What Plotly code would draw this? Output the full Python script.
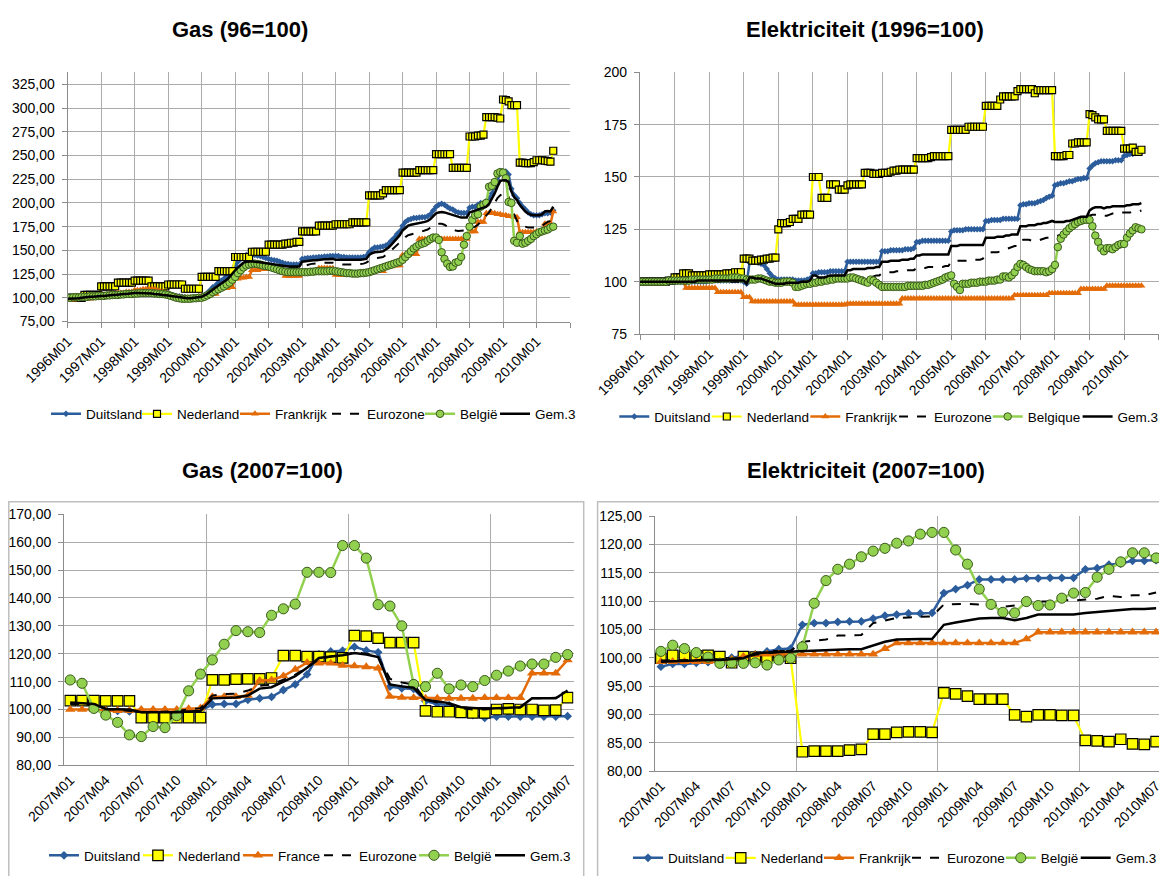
import plotly.graph_objects as go

# The browser page has an 8px body margin, so the figure is laid out in screen pixels minus 8.
OFF = 8
WF, HF = 1167 - OFF, 876 - OFF
FONT = "Liberation Sans, Arial, sans-serif"

# ---------------- categories & tick labels ----------------
months_9610 = [f"{y}M{m:02d}" for y in range(1996, 2011) for m in range(1, 13)][:175]
months_0710 = [f"{y}M{m:02d}" for y in range(2007, 2011) for m in range(1, 13)][:43]
ticks_9610 = ["1996M01", "1997M01", "1998M01", "1999M01", "2000M01", "2001M01", "2002M01",
              "2003M01", "2004M01", "2005M01", "2006M01", "2007M01", "2008M01", "2009M01",
              "2010M01"]
ticks_0710 = ["2007M01", "2007M04", "2007M07", "2007M10", "2008M01", "2008M04", "2008M07",
              "2008M10", "2009M01", "2009M04", "2009M07", "2009M10", "2010M01", "2010M04",
              "2010M07"]

# ---------------- Gas (96=100) ----------------
gas96_duitsland = [
    100, 100, 100, 100.5, 100.5, 100.5, 101, 101, 101, 101.5, 101.5, 102,
    102.5, 103, 103, 103.5, 103.5, 104, 104, 104.5, 104.5, 105, 105, 105.5,
    106, 106, 106, 106, 106, 105.5, 105.5, 105, 105, 104.5, 104.5, 104,
    103.5, 103, 102.5, 102, 101.5, 101, 100.5, 100, 100, 100, 100.5, 101,
    101.5, 103, 105, 108, 111, 113, 116, 118, 120, 123, 126, 130,
    134, 138, 141, 143, 145, 145.5, 145.5, 145, 144.5, 144, 143, 142,
    141, 140, 139.5, 139, 138, 137, 136, 135.5, 135, 135, 135, 135,
    141, 141.5, 142, 142, 142.5, 142.5, 143, 143, 143.5, 143.5, 144, 144,
    144, 144, 143, 143, 142.5, 142.5, 142.5, 142.5, 142.5, 142.5, 143, 144,
    148, 151, 153, 153, 153.5, 154, 155, 157, 160, 163, 167, 170,
    176, 180, 182, 183, 184, 184, 184.5, 185, 185, 186, 188, 192,
    196, 198, 199, 198, 196, 194, 193, 191, 190, 189.5, 189.5, 189.5,
    195, 196, 196, 198, 200, 200, 202, 205, 210, 217, 224, 231,
    233, 233, 230, 215, 208, 205, 200, 196, 193, 190, 188, 187,
    187, 187, 188, 189, 189, 190, 192]
gas96_nederland = [
    100, 100, 100, 100, 100, 100, 103, 103, 103, 103, 103, 103,
    112, 112, 112, 112, 112, 112, 116, 116, 116, 116, 116, 116,
    118, 118, 118, 118, 118, 118, 112, 112, 112, 112, 112, 112,
    114, 114, 114, 114, 114, 114, 109.5, 109.5, 109.5, 109.5, 109.5, 109.5,
    122, 122, 122, 122, 122, 122, 128, 128, 128, 128, 128, 128,
    143, 143, 143, 143, 143, 143, 148.5, 148.5, 148.5, 148.5, 148.5, 148.5,
    156, 156, 156, 156, 156, 156, 157, 157, 158, 158, 159, 159,
    170, 170, 170, 170, 170, 170, 176, 176, 176, 176, 176, 176,
    177.5, 177.5, 177.5, 177.5, 177.5, 177.5, 179.5, 179.5, 179.5, 179.5, 179.5, 179.5,
    208, 208, 208, 208, 208, 210, 213.5, 213.5, 213.5, 213.5, 213.5, 213.5,
    232, 232, 232, 232, 232, 232, 234.5, 234.5, 234.5, 234.5, 234.5, 234.5,
    251.5, 251.5, 251.5, 251.5, 251.5, 251.5, 237, 237, 237, 237, 237, 237,
    270, 270, 270, 271, 271, 272, 290.5, 290.5, 290.5, 290.5, 290, 289,
    309, 308.5, 307, 303, 303, 303, 242.5, 242.5, 242, 242, 242, 243,
    245, 245, 245, 244.5, 244, 243.5, 255]
gas96_frankrijk = [
    98, 98, 98, 98.5, 98.5, 98.5, 99, 99, 99, 100, 100, 100,
    103, 103, 103, 104, 104, 104, 105, 105, 105, 106, 106, 106,
    108, 108, 108, 109, 109, 109, 109, 109, 108, 107, 106, 105,
    104, 103, 102, 101, 100, 100, 100, 100, 100, 100, 100, 101,
    102, 102, 103, 103, 104, 104, 109, 109, 110, 110, 111, 111,
    120, 120, 121, 121, 122, 122, 129, 129, 129, 130, 130, 130,
    130, 130, 130, 130, 130, 130, 123, 123, 123, 123, 123, 123,
    127, 127, 127, 127, 127, 127, 131, 131, 131, 131, 131, 131,
    124, 124, 124, 124, 124, 124, 125, 125, 125, 125, 125, 125,
    128, 128, 128, 128, 128, 128, 133, 133, 133, 134, 134, 134,
    145, 145, 145, 146, 146, 146, 162, 162, 162, 162, 162, 162,
    162, 162, 162, 162, 162, 162, 162, 162, 162, 162, 162, 162,
    170, 170, 170, 180, 180, 180, 189, 189, 189, 189, 188, 188,
    187, 187, 186, 186, 185, 185, 169, 169, 169, 169, 169, 169,
    170, 170, 170, 178, 178, 178, 191]
gas96_eurozone = [
    99, 99, 99.5, 99.5, 99.5, 100, 100, 100.5, 100.5, 101, 101, 101,
    101.5, 101.5, 102, 102, 102.5, 102.5, 103, 103, 103.5, 103.5, 104, 104,
    104.5, 104.5, 104.5, 104.5, 104.5, 104, 104, 103.5, 103.5, 103, 103, 102.5,
    102, 101.5, 101, 100.5, 100, 99.5, 99.5, 99.5, 99.5, 99.5, 100, 100.5,
    101, 102, 103.5, 105.5, 108, 110, 112, 114, 116, 118, 121, 124,
    127, 130, 133, 135, 136, 136.5, 136.5, 136, 136, 135.5, 135, 134.5,
    134, 133.5, 133, 132.5, 132, 131.5, 131, 131, 131, 131, 131.5, 132,
    133, 134, 135, 135.5, 136, 136, 136.5, 136.5, 137, 137, 137, 137,
    136, 135.5, 135, 135, 135, 135, 135, 135, 135, 135.5, 136, 137,
    139, 140.5, 141.5, 142, 142.5, 143, 145, 147, 150, 153, 156, 159,
    162, 164, 166, 167, 168, 168.5, 169, 170, 171, 172, 174, 176,
    177, 178, 178, 177, 175, 173.5, 172, 171, 170.5, 170.5, 171, 172,
    173, 174, 175, 177, 180, 183, 186, 190, 195, 200, 205, 208,
    210, 210, 207, 195, 187, 181, 178, 176, 175, 174, 174, 174,
    174, 175, 176, 178, 180, 181, 184]
gas96_belgie = [
    100, 100, 100.5, 100.5, 100.5, 101, 101, 101, 101.5, 101.5, 101.5, 102,
    102, 102, 102.5, 102.5, 103, 103, 103, 103.5, 103.5, 104, 104, 104,
    104.5, 104.5, 105, 105, 105, 105, 105, 104.5, 104.5, 104, 104, 103.5,
    103, 102, 101, 100, 99.5, 99, 99, 99, 99, 99.5, 99.5, 100,
    100, 101, 102.5, 104, 106, 107.5, 109, 110.5, 112, 114, 116, 119,
    122, 126, 129, 132, 134, 135, 135.5, 136, 135.5, 135, 134, 133.5,
    133, 132, 131, 130, 129, 128, 127.5, 127, 127, 127, 127, 127,
    127, 127, 127, 127.5, 127.5, 128, 128, 128, 128, 128, 128.5, 128.5,
    128, 127.5, 127, 126.5, 126, 126, 125.5, 125.5, 125.5, 126, 126, 126.5,
    127, 128, 129, 130, 131, 132, 133, 134, 135, 136, 137, 138,
    140, 143, 146, 149, 152, 154, 156, 157, 158, 160, 162, 163.5,
    163.5, 161, 148, 141, 136, 132.5, 133, 137, 138, 143, 156, 165,
    175, 182, 187, 188, 196, 198, 200, 217, 218, 222, 231, 232.5,
    232, 226, 201, 200, 160, 158, 165, 157, 158, 160, 162, 165,
    167, 169, 170, 171, 172, 174, 175]
gas96_gem3 = [
    99, 99, 99, 99.5, 99.5, 100, 100.5, 100.5, 101, 101, 101.5, 101.5,
    102, 102, 102.5, 102.5, 103, 103, 103.5, 103.5, 104, 104, 104.5, 104.5,
    105, 105, 105, 105, 105, 104.5, 104.5, 104, 104, 103.5, 103, 103,
    102.5, 102, 101.5, 101, 100.5, 100, 100, 99.5, 99.5, 100, 100, 100.5,
    101, 102.5, 104, 106.5, 109, 111, 113, 115, 117, 119, 122, 126,
    129, 132, 135, 137, 138, 138.5, 138.5, 138, 138, 137.5, 137, 136.5,
    136, 135.5, 135, 134.5, 134, 133.5, 133, 133, 133, 133, 133, 133,
    138, 138.5, 139, 139, 139.5, 139.5, 140, 140, 140.5, 140.5, 141, 141,
    140, 140, 139.5, 139.5, 139.5, 139.5, 139.5, 139.5, 139.5, 140, 140.5, 141,
    145, 147, 148, 148, 148.5, 149, 151, 153, 156, 159, 162, 166,
    171, 174, 176, 177, 177.5, 178, 178.5, 179, 180, 181, 183, 186,
    189, 190, 190.5, 190, 189, 188, 187, 186, 185, 184.5, 184.5, 184.5,
    190, 191, 192, 193, 194, 194.5, 196, 199, 204, 210, 217, 223,
    224, 224, 222, 212, 206, 203, 198, 194, 191, 189, 187.5, 187,
    187, 187, 188, 191, 191.5, 191, 196]

# ---------------- Elektriciteit (1996=100) ----------------
el96_duitsland = [
    100, 100, 100, 100, 100, 100, 100, 100, 100, 100, 100, 100,
    100, 100, 100, 100, 100, 100, 100, 100, 100, 100, 100, 100,
    100.5, 100.5, 100.5, 100.5, 100.5, 100.5, 100.5, 100.5, 100.5, 100.5, 100.5, 100.5,
    100, 99, 109, 109.5, 109.5, 109, 108.5, 108, 106, 104, 102.5, 101.5,
    101, 101, 101, 101, 101, 101, 100.5, 100.5, 100.5, 100.5, 101, 101.5,
    104, 104, 104.5, 104.5, 104.5, 104.5, 105, 105, 105, 105, 105, 105,
    109.5, 109.5, 109.5, 109.5, 109.5, 109.5, 109.5, 109.5, 109.5, 109.5, 109.5, 109.5,
    114.5, 114.5, 114.5, 115, 115, 115, 115, 115, 115.5, 115.5, 115.5, 116,
    119, 119, 119.5, 119.5, 119.5, 119.5, 119.5, 119.5, 119.5, 119.5, 119.5, 119.5,
    124, 124.5, 124.5, 124.5, 124.5, 125, 125, 125, 125, 125, 125, 125,
    129, 129, 129.5, 129.5, 129.5, 129.5, 130, 130, 130, 130, 130, 130,
    136.5, 137, 137, 137.5, 137.5, 137.5, 138, 138.5, 139, 140, 140.5, 141,
    146, 146.5, 147, 147, 147.5, 148, 148, 148.5, 149, 149, 149.5, 149.5,
    154, 155.5, 156.5, 157, 157.5, 157.5, 157.5, 157.5, 157.5, 158, 158, 158,
    160, 160.5, 161, 161, 161.5, 162, 162]
el96_nederland = [
    100, 100, 100, 100, 100, 100, 100, 100, 100, 100, 100.5, 100.5,
    102, 102, 102, 104, 104, 104, 103, 103, 103, 103, 103, 103,
    103.5, 103.5, 103.5, 103.5, 103.5, 103.5, 104, 104, 104, 104.5, 104.5, 104.5,
    111, 111, 111, 110, 110, 110, 110.5, 110.5, 111, 111, 111.5, 111.5,
    125, 128, 128, 128, 128.5, 130, 130, 130, 132, 132, 132, 132,
    150, 150, 150, 140, 140, 140, 146.5, 146.5, 146.5, 144, 144, 144,
    146, 146.5, 146.5, 146.5, 146.5, 146.5, 152, 152, 152, 151.5, 151.5, 151.5,
    152, 152, 152, 152.5, 153, 153, 153.5, 153.5, 153.5, 153.5, 153.5, 153.5,
    159, 159, 159, 159, 159, 159.5, 160, 160, 160, 160, 160, 160,
    172.5, 172.5, 172.5, 172.5, 172.5, 172.5, 174, 174, 174, 174, 174, 174,
    184, 184, 184, 184, 184, 187, 188.5, 188.5, 188.5, 188.5, 188.5, 191,
    192, 192, 192, 192, 192, 190, 191.5, 191.5, 191.5, 191.5, 191.5, 191.5,
    160, 160, 160, 160, 160.5, 160.5, 166, 166, 166.5, 166.5, 166.5, 166.5,
    180, 179.5, 178.5, 177.5, 177.5, 177.5, 172, 172, 172, 172, 172, 172,
    163.5, 163.5, 163.5, 164, 162, 162, 163]
el96_frankrijk = [
    100, 100, 100, 100, 100, 100, 100, 100, 100, 100, 100, 100,
    100, 100, 100, 100, 97, 97, 97, 97, 97, 97, 97, 97,
    97, 97, 97, 95, 95, 95, 95, 95, 95, 95, 95, 95,
    92.5, 92.5, 92.5, 90.5, 90.5, 90.5, 90.5, 90.5, 90.5, 90.5, 90.5, 90.5,
    90.5, 90.5, 90.5, 90.5, 90.5, 90.5, 89, 89, 89, 89, 89, 89,
    89, 89, 89, 89, 89, 89, 89, 89, 89, 89, 89, 89,
    89.5, 89.5, 89.5, 89.5, 89.5, 89.5, 89.5, 89.5, 89.5, 89.5, 89.5, 89.5,
    89.5, 89.5, 89.5, 89.5, 89.5, 89.5, 89.5, 92, 92, 92, 92, 92,
    92, 92, 92, 92, 92, 92, 92, 92, 92, 92, 92, 92,
    92, 92, 92, 92, 92, 92, 92, 92, 92, 92, 92, 92,
    92, 92, 92, 92, 92, 92, 92, 92, 92, 92, 93.5, 93.5,
    93.5, 93.5, 93.5, 93.5, 93.5, 93.5, 93.5, 93.5, 93.5, 93.5, 94.5, 94.5,
    94.5, 94.5, 94.5, 94.5, 94.5, 94.5, 94.5, 94.5, 94.5, 96.5, 96.5, 96.5,
    96.5, 96.5, 96.5, 96.5, 96.5, 96.5, 98, 98, 98, 98, 98, 98,
    98, 98, 98, 98, 98, 98, 98]
el96_eurozone = [
    100, 100, 100, 100, 100, 100, 100, 100, 100, 100, 100, 100,
    100, 100, 100, 100, 100, 100, 100, 100, 100, 100, 100, 100,
    100, 100, 100, 100, 100, 100, 100, 100, 100, 100, 100, 100,
    100, 100, 100, 100, 100, 100, 100, 100, 100, 99.5, 99.5, 99.5,
    99.5, 99.5, 99.5, 99.5, 99.5, 99.5, 100, 100, 100, 100, 100, 100,
    101, 101, 101, 101, 101, 101, 101, 101, 101.5, 101.5, 101.5, 101.5,
    102, 102, 102, 102, 102, 102, 102, 102.5, 102.5, 102.5, 103, 103,
    104, 104, 104.5, 104.5, 104.5, 105, 105, 105, 105, 105.5, 105.5, 105.5,
    106.5, 106.5, 106.5, 106.5, 107, 107, 107, 107, 107, 107, 107.5, 107.5,
    109.5, 110, 110, 110, 110, 110, 110, 110, 110.5, 110.5, 110.5, 111,
    113, 113.5, 114, 114, 114, 114.5, 115, 115.5, 116, 116.5, 117, 117,
    119.5, 120, 120, 120, 119.5, 119.5, 119.5, 120, 120.5, 121, 121, 121.5,
    121.5, 122, 122.5, 123, 124, 125, 126, 127, 128, 129, 130, 130.5,
    131.5, 132, 132, 132, 131.5, 131.5, 131.5, 132, 132.5, 132.5, 133, 133,
    133, 133, 133, 133.5, 133.5, 133.5, 134]
el96_belgique = [
    100, 100, 100, 100, 100, 100, 100, 100, 100, 100, 100.5, 100.5,
    100.5, 100.5, 100.5, 100.5, 100.5, 100.5, 101, 101, 101, 101, 101, 101,
    101, 101, 101.5, 101.5, 101.5, 101.5, 101.5, 101.5, 102, 102, 102, 101.5,
    101.5, 101, 101, 101, 101, 101.5, 101.5, 101, 100.5, 100, 100, 99.5,
    99.5, 99.5, 100, 100, 100, 99.5, 97.5, 97.5, 98, 98.5, 99, 99,
    99.5, 99.5, 100, 100, 100.5, 100.5, 101, 101, 101.5, 101.5, 101.5, 101.5,
    101.5, 102, 102, 101.5, 101, 100.5, 100, 99.5, 101, 100.5, 99.5, 98.5,
    97.5, 97.5, 97.5, 97.5, 97.5, 97.5, 97.5, 97.5, 97.5, 98, 98, 98,
    98, 98, 98, 98.5, 98.5, 99, 99.5, 100, 100.5, 101, 102, 102.5,
    103, 99, 97.5, 96, 99, 99, 99, 99.5, 99.5, 99.5, 100, 100,
    100, 100.5, 100.5, 100.5, 101, 101, 102.5, 102.5, 102, 103, 104.5, 107,
    108.5, 108, 107, 106, 105.5, 105, 105, 105, 105, 104.5, 105, 106,
    108, 116.5, 120.5, 122.5, 124, 125.5, 126.5, 127.5, 128.5, 129, 129.5, 129.5,
    129.5, 126.5, 122, 119, 116, 114.5, 116, 116, 115.5, 116.5, 117.5, 118,
    118, 121, 123, 124.5, 126, 125.5, 125]
el96_gem3 = [
    100, 100, 100, 100, 100, 100, 100, 100, 100, 100, 100, 100,
    100, 100, 100, 100, 100, 100, 100, 100, 100.5, 100.5, 100.5, 100.5,
    100.5, 100.5, 100.5, 100.5, 100.5, 100.5, 100.5, 100.5, 100.5, 100.5, 100.5, 100.5,
    100.5, 99, 102, 102, 101.5, 101.5, 101.5, 101, 100.5, 100, 99.5, 99,
    99, 99, 99, 99.5, 99.5, 99.5, 99.5, 99.5, 100, 100, 100, 100.5,
    103, 103, 102, 102, 102, 102.5, 103, 103, 103, 103, 103, 103,
    105.5, 105.5, 106, 106, 106, 106, 106, 106.5, 106.5, 106.5, 107, 107,
    109.5, 109.5, 109.5, 110, 110, 110, 110, 110.5, 110.5, 110.5, 111, 111,
    112.5, 112.5, 113, 113, 113, 113, 113, 113, 113, 113, 113, 113,
    117, 117, 117, 117.5, 117.5, 117.5, 117.5, 117.5, 117.5, 117.5, 117.5, 117.5,
    121, 121, 121, 121, 121.5, 121.5, 121.5, 122, 122, 122.5, 122.5, 122.5,
    126.5, 126.5, 126.5, 127, 127, 127, 127.5, 127.5, 128, 128, 128.5, 129,
    128.5, 128.5, 128.5, 128.5, 129, 129, 129.5, 130, 130.5, 131, 131, 131,
    134, 135, 135.5, 135.5, 135.5, 135, 135.5, 135.5, 136, 136, 136, 136,
    136, 136.5, 136.5, 137, 137, 137, 137.5]

# ---------------- Gas (2007=100) ----------------
gas07_duitsland = [103, 103, 102.2, 100, 99.5, 99.3, 99, 99, 99, 99, 99, 99.5,
                   101.8, 102, 102, 103.5, 104, 104.5, 107, 109, 112.6, 119.8, 120.8, 121.1,
                   122.5, 121.2, 120.5, 108.2, 107.6, 107.4, 103, 102, 101.5, 99.5, 98, 97,
                   97.5, 97.5, 97.5, 97.5, 97.5, 97.5, 97.6]
gas07_nederland = [103.2, 103.2, 103.2, 103.1, 103.1, 103.1, 97.1, 97.1, 97.1, 97.1, 97.1, 97.1,
                   110.6, 110.6, 110.9, 111, 111, 111.3, 119.3, 119.3, 119, 119, 118.8, 118.5,
                   126.5, 126.3, 125.6, 124, 124, 124, 99.5, 99.2, 99.2, 99, 98.8, 98.8,
                   100, 100.2, 100, 100, 99.7, 99.8, 104.3]
gas07_france = [100, 100, 100, 99.6, 99.6, 99.6, 100, 100, 100, 100, 100.3, 100.5,
                104.6, 104.6, 104.6, 105, 110.4, 110.6, 112, 114.4, 116.8, 116.6, 116.6, 115.8,
                115.6, 115.3, 114.8, 104.7, 104.3, 104.2, 104, 104, 104, 104, 104, 104.2,
                104.2, 104.2, 104.2, 113, 113, 113, 117.8]
gas07_eurozone = [102, 102, 101.5, 100, 100, 99.6, 99, 99, 99.2, 99.5, 100, 100.5,
                  105, 105.5, 105.7, 106.8, 108.5, 109, 110.7, 112.5, 115, 118, 119, 119.5,
                  120.5, 120, 119, 111, 109.7, 109, 103.5, 102.5, 102, 100.5, 100, 100,
                  100.3, 100.5, 100.7, 104, 104, 104.2, 106]
gas07_belgie = [110.6, 109.4, 100.4, 98, 95.4, 90.9, 90.3, 93.9, 93.5, 97.8, 106.7, 112.7,
                117.8, 123.4, 128.3, 127.9, 127.6, 133.8, 136.1, 137.8, 149.2, 149.2, 149.1, 158.8,
                158.8, 154.3, 137.6, 137.1, 130, 109, 108.2, 113, 107.4, 108.8, 108.2, 110.4,
                112.3, 113.8, 115.6, 116.3, 116.3, 118.7, 119.7]
gas07_gem3 = [102.5, 102.3, 102, 100.2, 100, 100, 99, 99, 99, 99, 99.3, 99.5,
              104, 104.2, 104.3, 105, 107.5, 108, 110, 112, 115, 118.5, 119, 119.5,
              120.3, 119.7, 118.8, 109, 108.3, 107.8, 103.5, 102.8, 102.3, 100.8, 100.5, 100.3,
              100.5, 100.7, 100.8, 104, 104, 104, 106.8]

# ---------------- Elektriciteit (2007=100) ----------------
el07_duitsland = [98.4, 98.9, 98.9, 99.1, 99.2, 99.3, 100, 100.3, 100.6, 101.1, 101.5, 101.6,
                  105.8, 106.1, 106.1, 106.3, 106.4, 106.4, 106.9, 107.4, 107.6, 107.8, 107.8, 107.9,
                  111.4, 112.1, 112.8, 113.8, 113.8, 113.8, 113.8, 114, 114, 114.1, 114.1, 114.1,
                  115.6, 115.8, 116.4, 116.6, 117.1, 117.1, 117.2]
el07_nederland = [99.9, 100.4, 100.3, 100.3, 100.4, 100.2, 99.1, 100.2, 100.1, 100, 100.3, 99.9,
                  83.4, 83.5, 83.5, 83.5, 83.7, 83.8, 86.5, 86.5, 86.8, 86.9, 86.9, 86.8,
                  93.8, 93.6, 93.2, 92.7, 92.7, 92.7, 89.9, 89.6, 89.9, 89.9, 89.8, 89.8,
                  85.4, 85.3, 85.2, 85.6, 84.8, 84.7, 85.2]
el07_frankrijk = [99.3, 99.3, 99.3, 99.3, 99.3, 99.3, 99.7, 100.2, 100.5, 100.6, 100.6, 100.6,
                  100.6, 100.6, 100.6, 100.6, 100.6, 100.6, 100.6, 101.6, 102.6, 102.6, 102.6, 102.6,
                  102.6, 102.6, 102.6, 102.6, 102.6, 102.6, 102.6, 103.3, 104.5, 104.5, 104.5, 104.5,
                  104.5, 104.5, 104.5, 104.5, 104.5, 104.5, 104.5]
el07_eurozone = [99.5, 99.5, 99.6, 99.6, 99.7, 99.7, 99.8, 100, 100.5, 100.8, 101, 101.2,
                 102.8, 103, 103.2, 103.9, 104, 104, 106.1, 106.6, 107, 107.1, 107.2, 107.3,
                 109.4, 109.5, 109.5, 109.4, 109.3, 109, 109.2, 109.6, 109.9, 109.9, 110.2, 110.1,
                 110.2, 110.4, 110.9, 110.7, 111, 111, 111.5]
el07_belgie = [101.1, 102.2, 101.6, 100.9, 100.1, 99, 99.1, 99, 99.1, 98.7, 99.6, 99.9,
               101.9, 109.6, 113.6, 115.6, 116.5, 117.8, 118.8, 119.3, 120.2, 120.6, 121.8, 122.1,
               122.1, 119, 116.5, 112.1, 109.4, 108, 107.9, 109.9, 109.2, 109.3, 110.5, 111.4,
               111.5, 114.2, 115.6, 116.9, 118.5, 118.5, 117.6]
el07_gem3 = [99.3, 99.4, 99.5, 99.5, 99.6, 99.6, 99.7, 99.9, 100.8, 100.9, 101, 101.1,
             101.2, 101.3, 101.3, 101.4, 101.5, 101.5, 102.2, 102.8, 103.2, 103.3, 103.3, 103.3,
             105.8, 106.2, 106.5, 106.9, 107, 107, 106.6, 107, 107.6, 107.6, 107.6, 107.6,
             107.9, 108.1, 108.3, 108.4, 108.6, 108.6, 108.7]

for s in [gas96_duitsland, gas96_nederland, gas96_frankrijk, gas96_eurozone, gas96_belgie, gas96_gem3,
          el96_duitsland, el96_nederland, el96_frankrijk, el96_eurozone, el96_belgique, el96_gem3]:
    assert len(s) == len(months_9610), len(s)
for s in [gas07_duitsland, gas07_nederland, gas07_france, gas07_eurozone, gas07_belgie, gas07_gem3,
          el07_duitsland, el07_nederland, el07_frankrijk, el07_eurozone, el07_belgie, el07_gem3]:
    assert len(s) == len(months_0710), len(s)

# ---------------- styling ----------------
BLUE = "#2B5C9B"
YELLOW = "#FFFF00"
ORANGE = "#E36C09"
GREEN = "#92D050"
GREEN_EDGE = "#3A5A1C"
BLACK = "#000000"
GRID = "#ABABAB"
AXIS = "#8C8C8C"


def styles(big):
    k = 1.0 if not big else 1.35
    return [
        dict(line=dict(color=BLUE, width=2.5), marker=dict(symbol="diamond", size=5 * k, color=BLUE)),
        dict(line=dict(color=YELLOW, width=2.2),
             marker=dict(symbol="square", size=(10.5 if big else 7), color=YELLOW,
                         line=dict(color=BLACK, width=1.2))),
        dict(line=dict(color=ORANGE, width=2.5), marker=dict(symbol="triangle-up", size=6 * k + 1, color=ORANGE)),
        dict(line=dict(color=BLACK, width=2, dash="dash"), marker=None),
        dict(line=dict(color=GREEN, width=2.5),
             marker=dict(symbol="circle", size=7.5 * k, color=GREEN, line=dict(color=GREEN_EDGE, width=1))),
        dict(line=dict(color=BLACK, width=2.5), marker=None),
    ]


fig = go.Figure()

panels = [
    (1, ["Duitsland", "Nederland", "Frankrijk", "Eurozone", "België", "Gem.3"],
     [gas96_duitsland, gas96_nederland, gas96_frankrijk, gas96_eurozone, gas96_belgie, gas96_gem3],
     months_9610, False),
    (2, ["Duitsland", "Nederland", "Frankrijk", "Eurozone", "Belgique", "Gem.3"],
     [el96_duitsland, el96_nederland, el96_frankrijk, el96_eurozone, el96_belgique, el96_gem3],
     months_9610, False),
    (3, ["Duitsland", "Nederland", "France", "Eurozone", "België", "Gem.3"],
     [gas07_duitsland, gas07_nederland, gas07_france, gas07_eurozone, gas07_belgie, gas07_gem3],
     months_0710, True),
    (4, ["Duitsland", "Nederland", "Frankrijk", "Eurozone", "België", "Gem.3"],
     [el07_duitsland, el07_nederland, el07_frankrijk, el07_eurozone, el07_belgie, el07_gem3],
     months_0710, True),
]


def legend_key(n, j):
    idx = (n - 1) * 6 + j + 1
    return "legend" if idx == 1 else f"legend{idx}"


for n, names, series, cats, big in panels:
    xs = list(range(len(cats)))
    st = styles(big)
    for j, (name, ys, s) in enumerate(zip(names, series, st)):
        kw = dict(x=xs, y=ys, name=name, customdata=cats,
                  xaxis="x" if n == 1 else f"x{n}", yaxis="y" if n == 1 else f"y{n}",
                  legend=legend_key(n, j),
                  line=s["line"], hovertemplate="%{customdata}: %{y}<extra>" + name + "</extra>")
        if s["marker"] is not None:
            kw["mode"] = "lines+markers"
            kw["marker"] = s["marker"]
        else:
            kw["mode"] = "lines"
        fig.add_trace(go.Scatter(**kw))


# screen-pixel -> paper fraction helpers
def sx(x):
    return (x - OFF) / WF


def sy(y):
    return 1 - (y - OFF) / HF


def clamp(v):
    return max(0.0, min(1.0, v))


def dom_x(a, b):
    return [clamp(sx(a)), clamp(sx(b))]


def dom_y(top, bottom):
    return [clamp(sy(bottom)), clamp(sy(top))]


xtickfont = dict(family=FONT, size=14, color="#000000")
ytickfont = dict(family=FONT, size=14, color="#000000")


def xaxis_long(dom, anchor):
    tv = [months_9610.index(t) for t in ticks_9610] + [180]
    return dict(domain=dom, anchor=anchor, range=[0, 180], tickmode="array",
                tickvals=tv, ticktext=ticks_9610 + [""], tickangle=-45,
                showgrid=True, gridcolor=GRID, gridwidth=1.3, showline=True, linecolor=AXIS,
                linewidth=1.3, ticks="outside", ticklen=5, tickcolor=AXIS, tickfont=xtickfont,
                zeroline=False)


def xaxis_short(dom, anchor):
    tv = [months_0710.index(t) for t in ticks_0710]
    return dict(domain=dom, anchor=anchor, range=[-0.5, len(months_0710) - 0.5], tickmode="array",
                tickvals=tv, ticktext=ticks_0710, tickangle=-45,
                showgrid=False, showline=True, linecolor=AXIS, linewidth=1.3,
                ticks="", tickfont=xtickfont, zeroline=False,
                minor=dict(tickmode="linear", tick0=-0.5, dtick=12, showgrid=True,
                           gridcolor=GRID, gridwidth=1.3, ticks=""))


def yaxis(dom, anchor, rng, tv, fmt):
    return dict(domain=dom, anchor=anchor, range=rng, tickmode="array", tickvals=tv,
                tickformat=fmt, showgrid=True, gridcolor=GRID, gridwidth=1.3,
                showline=True, linecolor=AXIS, linewidth=1.3, ticks="outside", ticklen=5,
                tickcolor=AXIS, tickfont=ytickfont, zeroline=False, ticklabelstandoff=4)


yticks_gas96 = [75, 100, 125, 150, 175, 200, 225, 250, 275, 300, 325]
yticks_el96 = [75, 100, 125, 150, 175, 200]
yticks_gas07 = [80, 90, 100, 110, 120, 130, 140, 150, 160, 170]
yticks_el07 = [80, 85, 90, 95, 100, 105, 110, 115, 120, 125]

layout = dict(
    width=WF, height=HF, margin=dict(l=0, r=0, t=0, b=0, autoexpand=False), autosize=False,
    paper_bgcolor="white", plot_bgcolor="white", separators=", ",
    font=dict(family=FONT, size=14, color="#000000"),
    xaxis=xaxis_long(dom_x(67.7, 570), "y"),
    yaxis=yaxis(dom_y(72, 321.5), "x", [75, 338], yticks_gas96, ".2f"),
    xaxis2=xaxis_long(dom_x(640, 1158.7), "y2"),
    yaxis2=yaxis(dom_y(72.3, 334), "x2", [75, 200], yticks_el96, "d"),
    xaxis3=xaxis_short(dom_x(64.3, 573.5), "y3"),
    yaxis3=yaxis(dom_y(514.3, 765.3), "x3", [80, 170], yticks_gas07, ".2f"),
    xaxis4=xaxis_short(dom_x(655, 1162), "y4"),
    yaxis4=yaxis(dom_y(516, 771), "x4", [80, 125], yticks_el07, ".2f"),
    showlegend=True,
)

# legend entries: start of each entry's text (screen px) and row centre, per panel
legend_text_x = {
    1: [84, 175, 273, 365, 458, 533],
    2: [652.3, 744.8, 843.3, 932, 1025.7, 1115.6],
    3: [82, 176, 276, 357, 452, 528],
    4: [666, 758.7, 857, 945, 1038.8, 1113.7],
}
legend_row_y = {1: 414, 2: 416.7, 3: 855.5, 4: 858}

legfont = dict(family=FONT, size=13.5, color="#000000")
for n in range(1, 5):
    for j, tx in enumerate(legend_text_x[n]):
        layout[legend_key(n, j)] = dict(
            orientation="h", x=sx(tx - 38), y=sy(legend_row_y[n]), xanchor="left", yanchor="middle",
            font=legfont, bgcolor="rgba(0,0,0,0)", itemwidth=30, borderwidth=0)

titles = [("Gas (96=100)", 240, 30), ("Elektriciteit (1996=100)", 865, 30),
          ("Gas (2007=100)", 262, 470), ("Elektriciteit (2007=100)", 866, 470)]
layout["annotations"] = [dict(text=f"<b>{t}</b>", x=sx(x), y=sy(y), xref="paper", yref="paper",
                              showarrow=False, xanchor="center", yanchor="middle",
                              font=dict(family=FONT, size=22, color="#000000"))
                         for t, x, y in titles]

FRAME = "#BFBFBF"
layout["shapes"] = [
    dict(type="rect", xref="paper", yref="paper", x0=sx(8.8), x1=sx(583.7), y0=-0.05, y1=sy(501.7),
         line=dict(color=FRAME, width=1.5), fillcolor="rgba(0,0,0,0)", layer="below"),
    dict(type="rect", xref="paper", yref="paper", x0=sx(597.6), x1=1.05, y0=-0.05, y1=sy(501.7),
         line=dict(color=FRAME, width=1.5), fillcolor="rgba(0,0,0,0)", layer="below"),
]

fig.update_layout(**layout)
fig.write_html("out.html")
